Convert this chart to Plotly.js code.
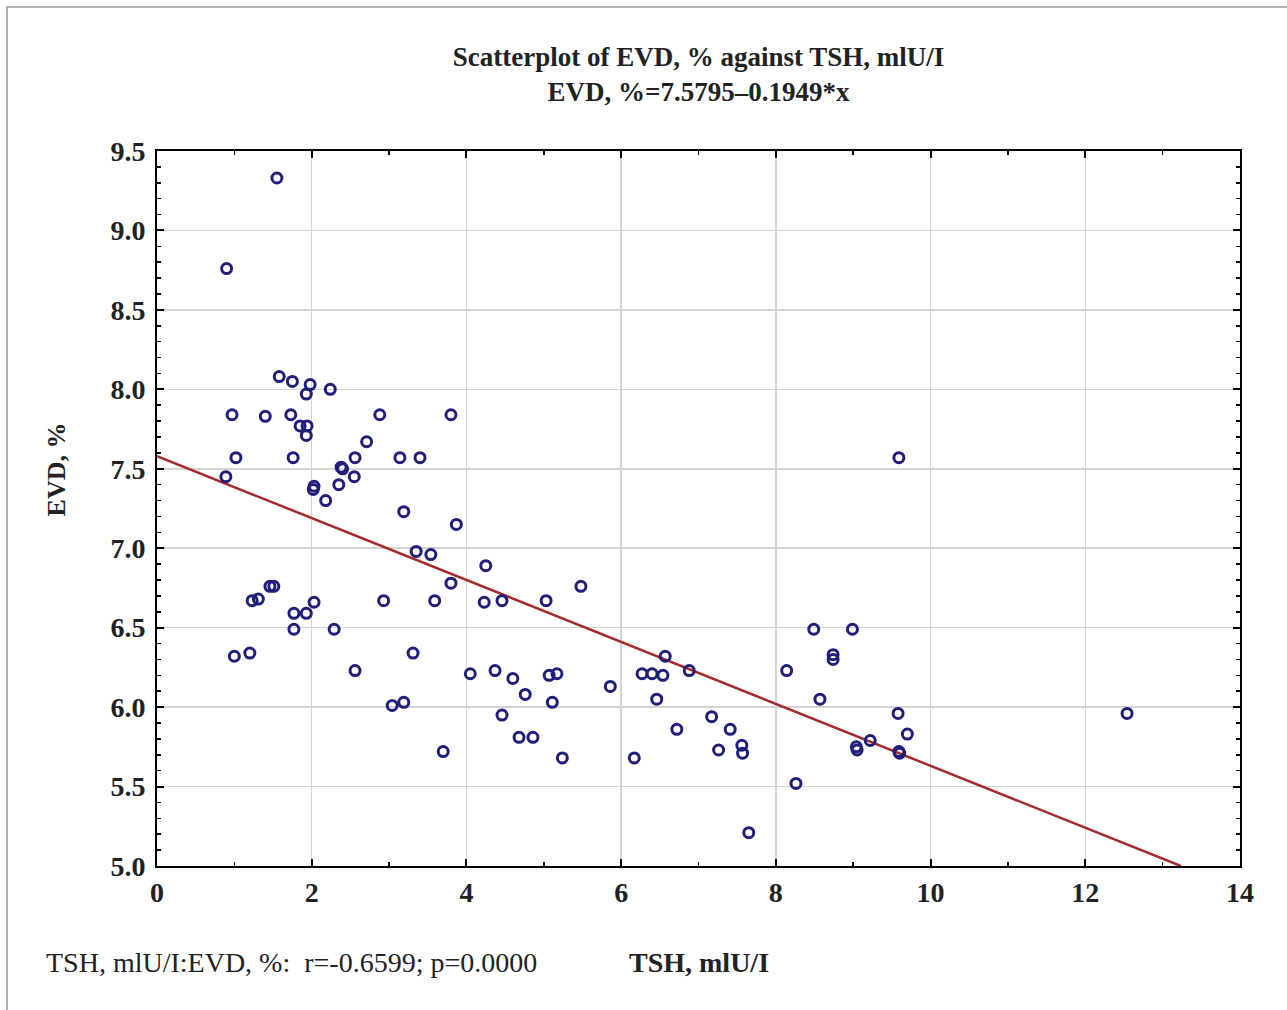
<!DOCTYPE html>
<html>
<head>
<meta charset="utf-8">
<script src="https://cdn.plot.ly/plotly-3.0.1.min.js"></script>
<style>
html,body{margin:0;padding:0;background:#fff;}
#frame{position:absolute;left:0;top:0;width:1287px;height:1010px;}
#frame:before{content:"";position:absolute;left:7px;top:6px;right:0;height:2px;background:#b0b0b0;}
#frame:after{content:"";position:absolute;left:6px;top:6px;bottom:0;width:2px;background:#b0b0b0;}
#chart{position:absolute;left:0;top:0;width:1287px;height:1010px;}
</style>
</head>
<body>
<div id="frame"></div>
<div id="chart"></div>
<script>
// TSH, mlU/I
const tsh = [1.55,0.90,1.58,1.75,1.98,2.24,1.93,0.97,1.40,1.73,2.88,3.80,1.85,1.94,1.93,2.71,1.02,1.76,2.56,3.14,3.40,9.59,0.89,2.38,2.40,2.55,2.03,2.02,2.35,2.18,3.19,3.87,3.35,3.54,4.25,1.46,1.51,3.80,5.48,1.23,1.31,2.03,2.93,3.59,4.23,4.46,5.03,1.77,1.93,1.77,2.29,1.00,1.20,3.31,2.56,4.05,4.37,4.60,5.07,5.17,4.76,5.11,3.04,3.19,4.46,4.68,4.86,3.70,5.24,5.86,6.27,6.40,6.54,6.57,6.88,6.46,6.72,7.17,7.41,7.26,7.56,7.57,6.17,7.65,8.14,8.49,8.99,8.74,8.74,8.57,8.26,9.58,9.70,9.22,9.04,9.05,9.59,9.60,12.54];
// EVD, %
const evd = [9.33,8.76,8.08,8.05,8.03,8.00,7.97,7.84,7.83,7.84,7.84,7.84,7.77,7.77,7.71,7.67,7.57,7.57,7.57,7.57,7.57,7.57,7.45,7.51,7.50,7.45,7.39,7.37,7.40,7.30,7.23,7.15,6.98,6.96,6.89,6.76,6.76,6.78,6.76,6.67,6.68,6.66,6.67,6.67,6.66,6.67,6.67,6.59,6.59,6.49,6.49,6.32,6.34,6.34,6.23,6.21,6.23,6.18,6.20,6.21,6.08,6.03,6.01,6.03,5.95,5.81,5.81,5.72,5.68,6.13,6.21,6.21,6.20,6.32,6.23,6.05,5.86,5.94,5.86,5.73,5.76,5.71,5.68,5.21,6.23,6.49,6.49,6.33,6.30,6.05,5.52,5.96,5.83,5.79,5.75,5.73,5.72,5.71,5.96];
// Regression: EVD = 7.5795 - 0.1949*x
const intercept = 7.5795;
const slope = -0.1949;
const fitX = [0, (5.0 - intercept) / slope];
const fitY = fitX.map(x => intercept + slope * x);
const xTicks = [0,2,4,6,8,10,12,14];
const yTicks = [5.0,5.5,6.0,6.5,7.0,7.5,8.0,8.5,9.0,9.5];
const titleLines = ["Scatterplot of EVD, % against TSH, mlU/I", "EVD, %=7.5795\u20130.1949*x"];
const statText = "TSH, mlU/I:EVD, %:  r=-0.6599; p=0.0000";

const serif = "Liberation Serif, DejaVu Serif, serif";

const traces = [
  {x: fitX, y: fitY, mode: 'lines', type: 'scatter',
   line: {color: '#a52a2a', width: 2.5}, hoverinfo: 'skip'},
  {x: tsh, y: evd, mode: 'markers', type: 'scatter',
   marker: {symbol: 'circle-open', size: 10, color: '#1f1f7a', line: {width: 3, color: '#1f1f7a'}}}
];

const axisCommon = {
  showline: true, linecolor: '#000', linewidth: 2, mirror: 'allticks',
  ticks: 'inside', ticklen: 7, tickwidth: 2, tickcolor: '#000',
  showgrid: true, gridcolor: '#d4d4d4', gridwidth: 1.5,
  zeroline: false,
  tickfont: {family: serif, size: 28, color: '#222'}
};

const layout = {
  width: 1287, height: 1010,
  paper_bgcolor: 'rgba(0,0,0,0)', plot_bgcolor: '#fff',
  margin: {l: 157, r: 47, t: 151, b: 144},
  showlegend: false,
  title: {text: '<b>' + titleLines[0] + '</b><br><b>' + titleLines[1] + '</b>',
          x: 0.5, xref: 'paper', y: 0.935, yanchor: 'top',
          font: {family: serif, size: 27, color: '#222'}},
  xaxis: Object.assign({}, axisCommon, {
    range: [0, 14], tickvals: xTicks, ticktext: xTicks.map(v => '<b>' + v + '</b>'),
    minor: {dtick: 1, ticks: 'inside', ticklen: 4, tickwidth: 1.5, tickcolor: '#000', showgrid: false},
    ticklabelstandoff: 0
  }),
  yaxis: Object.assign({}, axisCommon, {
    range: [5.0, 9.5], tickvals: yTicks, ticktext: yTicks.map(v => '<b>' + v.toFixed(1) + '</b>'),
    minor: {dtick: 0.1, ticks: 'inside', ticklen: 4, tickwidth: 1.5, tickcolor: '#000', showgrid: false},
    ticklabelstandoff: 4
  }),
  annotations: [
    {text: '<b>EVD, %</b>', xref: 'paper', yref: 'paper', x: -0.108, y: 0.554,
     textangle: -90, showarrow: false, font: {family: serif, size: 26, color: '#222'}},
    {text: statText, xref: 'paper', yref: 'paper', x: -0.104, y: -0.16, xanchor: 'left',
     showarrow: false, font: {family: serif, size: 28, color: '#222'}},
    {text: '<b>TSH, mlU/I</b>', xref: 'paper', yref: 'paper', x: 0.5, y: -0.16,
     showarrow: false, font: {family: serif, size: 28, color: '#222'}}
  ]
};

Plotly.newPlot('chart', traces, layout, {staticPlot: true, displayModeBar: false});
</script>
</body>
</html>
